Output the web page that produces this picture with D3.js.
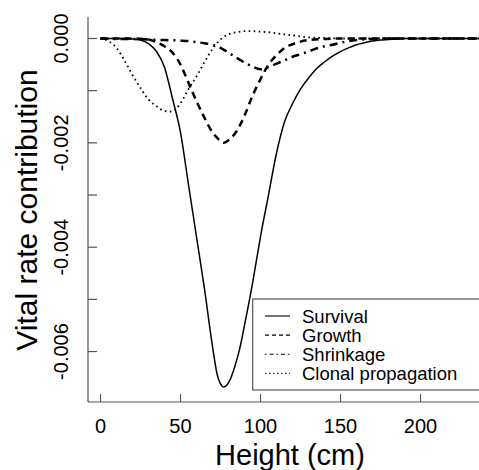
<!DOCTYPE html>
<html>
<head>
<meta charset="utf-8">
<title>Vital rate contribution</title>
<script src="https://d3js.org/d3.v7.min.js"></script>
<style>
  body { margin: 0; background: #fff; }
  svg text { font-family: "Liberation Sans", Arial, sans-serif; fill: #000; }
</style>
</head>
<body>
<div id="chart"></div>
<script>
// heights (cm) and contributions
const survivalX = [0, 5, 10, 15, 20, 25, 30, 35, 40, 45, 50, 55, 60, 65, 70, 73, 75, 77, 79, 81, 84, 87, 90, 95, 100, 105, 110, 115, 120, 125, 130, 135, 140, 145, 150, 155, 160, 165, 170, 175, 180, 185, 190, 200, 220, 250];
const survivalY = [0, 0, 0, 0, -0.00001, -0.00003, -0.0001, -0.00025, -0.00055, -0.00115, -0.0018, -0.0028, -0.0038, -0.0048, -0.0059, -0.00645, -0.00662, -0.00668, -0.00664, -0.00654, -0.00628, -0.00595, -0.0055, -0.0047, -0.0038, -0.003, -0.0022, -0.0016, -0.00125, -0.00097, -0.00076, -0.00058, -0.00045, -0.00034, -0.00025, -0.00018, -0.00012, -0.00008, -0.00005, -0.00003, -0.00002, -0.00001, 0, 0, 0, 0];

const growthX = [0, 10, 20, 30, 35, 40, 45, 50, 55, 60, 65, 70, 75, 77, 80, 85, 90, 95, 100, 105, 110, 115, 120, 125, 130, 140, 150, 250];
const growthY = [0, 0, 0, -0.00002, -0.00007, -0.00015, -0.00027, -0.0005, -0.00085, -0.0012, -0.00152, -0.0018, -0.00196, -0.002, -0.00195, -0.00178, -0.00148, -0.0011, -0.00078, -0.0005, -0.00032, -0.00018, -0.00011, -0.00006, -0.00003, -0.00001, 0, 0];

const shrinkX = [0, 10, 20, 30, 40, 50, 55, 60, 65, 70, 75, 80, 85, 90, 95, 100, 105, 110, 115, 120, 125, 130, 135, 140, 145, 150, 155, 160, 170, 180, 250];
const shrinkY = [0, -0.00001, -0.00001, -0.00002, -0.00003, -0.00004, -0.00005, -0.00007, -0.00009, -0.00012, -0.00018, -0.00027, -0.00037, -0.00046, -0.00054, -0.00059, -0.00055, -0.00048, -0.00042, -0.00035, -0.0003, -0.00025, -0.00019, -0.00015, -0.00012, -0.00008, -0.00005, -0.00003, -0.00001, 0, 0];

const clonalX = [0, 5, 10, 15, 20, 25, 30, 35, 40, 45, 50, 55, 60, 65, 70, 75, 80, 85, 90, 95, 100, 105, 110, 115, 120, 125, 130, 140, 150, 250];
const clonalY = [0, -0.00005, -0.00018, -0.00042, -0.0007, -0.00095, -0.00117, -0.0013, -0.00139, -0.0014, -0.00124, -0.00097, -0.00073, -0.00045, -0.0002, -0.00002, 0.00008, 0.00012, 0.00014, 0.00014, 0.00013, 0.00012, 0.0001, 0.00008, 0.00006, 0.00004, 0.00002, 0.00001, 0, 0];

const xTicks = [0, 50, 100, 150, 200];
const yTicks = [0, -0.001, -0.002, -0.003, -0.004, -0.005, -0.006];
const yLabelTicks = [0, -0.002, -0.004, -0.006];
const legendLabels = ["Survival", "Growth", "Shrinkage", "Clonal propagation"];

const width = 479, height = 470;

const svg = d3.select("#chart").append("svg")
    .attr("width", width)
    .attr("height", height);

// plot region (the right side is cut off by the frame, like the original)
const x = d3.scaleLinear().domain([-7.8, 250]).range([88, 88 + 257.8 * 1.6]);
const y = d3.scaleLinear().domain([-0.006967, 0.000412]).range([402, 17]);

const axisCol = "#555";

// y axis line + ticks (inward)
svg.append("line")
    .attr("x1", 88).attr("x2", 88)
    .attr("y1", y.range()[1]).attr("y2", y.range()[0])
    .attr("stroke", axisCol).attr("stroke-width", 1.2);

svg.selectAll(".ytick").data(yTicks).enter().append("line")
    .attr("x1", 88).attr("x2", 97)
    .attr("y1", d => y(d)).attr("y2", d => y(d))
    .attr("stroke", axisCol).attr("stroke-width", 1.2);

svg.selectAll(".ylab").data(yLabelTicks).enter().append("text")
    .attr("transform", d => "translate(68," + y(d) + ") rotate(-90)")
    .attr("text-anchor", "middle")
    .style("font-size", "20px")
    .text(d => d3.format(".3f")(d).replace("−", "-"));

// x axis line + ticks (inward)
svg.append("line")
    .attr("x1", 88).attr("x2", width + 5)
    .attr("y1", 402).attr("y2", 402)
    .attr("stroke", axisCol).attr("stroke-width", 1.2);

svg.selectAll(".xtick").data(xTicks).enter().append("line")
    .attr("x1", d => x(d)).attr("x2", d => x(d))
    .attr("y1", 402).attr("y2", 394)
    .attr("stroke", axisCol).attr("stroke-width", 1.2);

svg.selectAll(".xlab").data(xTicks).enter().append("text")
    .attr("x", d => x(d)).attr("y", 433)
    .attr("text-anchor", "middle")
    .style("font-size", "20px")
    .text(d => d);

// axis titles
svg.append("text")
    .attr("x", 290).attr("y", 465)
    .attr("text-anchor", "middle")
    .style("font-size", "29px")
    .text("Height (cm)");

svg.append("text")
    .attr("transform", "translate(37,210) rotate(-90)")
    .attr("text-anchor", "middle")
    .style("font-size", "30px")
    .text("Vital rate contribution");

// curves
const line = d3.line()
    .x(d => x(d[0]))
    .y(d => y(d[1]))
    .curve(d3.curveMonotoneX);

const series = [
    { xs: survivalX, ys: survivalY, w: 1.5, dash: null },
    { xs: growthX, ys: growthY, w: 2.5, dash: "7,5" },
    { xs: shrinkX, ys: shrinkY, w: 2.5, dash: "8,5,2,5" },
    { xs: clonalX, ys: clonalY, w: 1.8, dash: "1.6,3.4" }
];

series.forEach(s => {
    svg.append("path")
        .datum(d3.zip(s.xs, s.ys))
        .attr("d", line)
        .attr("fill", "none")
        .attr("stroke", "#000")
        .attr("stroke-width", s.w)
        .attr("stroke-dasharray", s.dash);
});

// legend
const legDash = [null, "4,3", "1.5,3,4,3", "1.5,2.5"];
const leg = svg.append("g");
leg.append("rect")
    .attr("x", 252.7).attr("y", 299)
    .attr("width", 260).attr("height", 91)
    .attr("fill", "#fff")
    .attr("stroke", axisCol).attr("stroke-width", 1.2);

legendLabels.forEach((lab, i) => {
    const cy = 316 + i * 19.1;
    leg.append("line")
        .attr("x1", 265).attr("x2", 290)
        .attr("y1", cy).attr("y2", cy)
        .attr("stroke", "#000").attr("stroke-width", 1.1)
        .attr("stroke-dasharray", legDash[i]);
    leg.append("text")
        .attr("x", 302).attr("y", cy + 7)
        .style("font-size", "18.5px")
        .text(lab);
});
</script>
</body>
</html>
